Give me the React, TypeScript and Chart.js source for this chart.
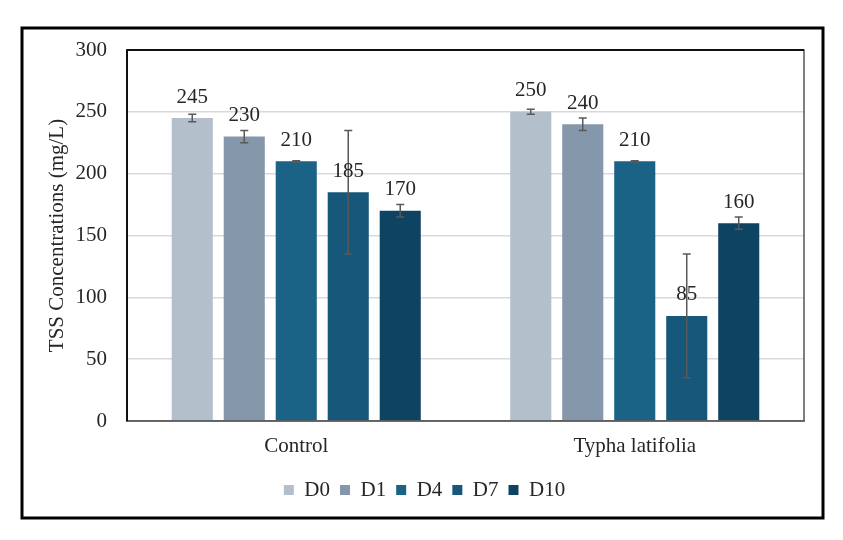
import React, { useEffect, useRef } from "react";
import { Chart, registerables } from "chart.js";

Chart.register(...registerables);

// ---- data ----
const categories = ["Control", "Typha latifolia"];
const seriesNames = ["D0", "D1", "D4", "D7", "D10"];
const valuesD0 = [245, 250];
const valuesD1 = [230, 240];
const valuesD4 = [210, 210];
const valuesD7 = [185, 85];
const valuesD10 = [170, 160];
const errorsD0 = [3, 2];
const errorsD1 = [5, 5];
const errorsD4 = [0.5, 0.5];
const errorsD7 = [50, 50];
const errorsD10 = [5, 5];
const yMin = 0;
const yMax = 300;
const yStep = 50;
const yTitle = "TSS Concentrations (mg/L)";

const seriesValues = [valuesD0, valuesD1, valuesD4, valuesD7, valuesD10];
const seriesErrors = [errorsD0, errorsD1, errorsD4, errorsD7, errorsD10];
const seriesColors = ["#b3bfca", "#8597aa", "#1b6287", "#175779", "#0f4362"];

const FONT = "'Liberation Serif', 'Times New Roman', serif";
const TEXT = "#262626";

const decorPlugin = {
  id: "decor",
  afterDatasetsDraw(chart: any) {
    const ctx = chart.ctx;
    const y = chart.scales.y;
    ctx.save();
    chart.data.datasets.forEach((ds: any, i: number) => {
      const meta = chart.getDatasetMeta(i);
      const errs = seriesErrors[i];
      meta.data.forEach((el: any, j: number) => {
        const v = ds.data[j];
        const e = errs[j];
        const x = el.x;
        const yt = y.getPixelForValue(v + e);
        const yb = y.getPixelForValue(v - e);
        ctx.strokeStyle = "#595959";
        ctx.lineWidth = 1.5;
        ctx.beginPath();
        ctx.moveTo(x, yt);
        ctx.lineTo(x, yb);
        ctx.moveTo(x - 4, yt);
        ctx.lineTo(x + 4, yt);
        ctx.moveTo(x - 4, yb);
        ctx.lineTo(x + 4, yb);
        ctx.stroke();
      });
    });
    ctx.fillStyle = TEXT;
    ctx.font = `21px ${FONT}`;
    ctx.textAlign = "center";
    ctx.textBaseline = "middle";
    chart.data.datasets.forEach((ds: any, i: number) => {
      const meta = chart.getDatasetMeta(i);
      meta.data.forEach((el: any, j: number) => {
        ctx.fillText(String(ds.data[j]), el.x, el.y - 21);
      });
    });
    ctx.restore();
  },
  afterDraw(chart: any) {
    const ctx = chart.ctx;
    const a = chart.chartArea;
    ctx.save();
    // chart area frame
    ctx.strokeStyle = "#555555";
    ctx.lineWidth = 1.5;
    ctx.strokeRect(a.left, a.top, a.right - a.left, a.bottom - a.top);
    ctx.strokeStyle = "#111111";
    ctx.lineWidth = 2;
    ctx.beginPath();
    ctx.moveTo(a.left, a.top);
    ctx.lineTo(a.right, a.top);
    ctx.moveTo(a.left, a.top);
    ctx.lineTo(a.left, a.bottom);
    ctx.stroke();
    // outer frame
    ctx.strokeStyle = "#000000";
    ctx.lineWidth = 3;
    ctx.strokeRect(22, 28, 801, 490);
    ctx.restore();
  },
};

export default function App() {
  const ref = useRef<HTMLCanvasElement | null>(null);
  useEffect(() => {
    document.body.style.margin = "0";
    const canvas = ref.current;
    if (!canvas) return;
    const chart = new Chart(canvas, {
      type: "bar",
      data: {
        labels: categories,
        datasets: seriesNames.map((name, i) => ({
          label: name,
          data: seriesValues[i],
          backgroundColor: seriesColors[i],
          borderWidth: 0,
          categoryPercentage: 0.768,
          barPercentage: 0.79,
        })),
      },
      options: {
        responsive: false,
        animation: false,
        devicePixelRatio: 1,
        layout: { padding: { left: 45, right: 39, top: 50, bottom: 29.5 } },
        plugins: {
          legend: {
            position: "bottom",
            labels: {
              boxWidth: 10,
              boxHeight: 10,
              padding: 10,
              color: TEXT,
              font: { family: FONT, size: 21 },
            },
          },
          tooltip: { enabled: false },
        },
        scales: {
          x: {
            grid: { display: false, drawTicks: false },
            border: { display: true, color: "#7f7f7f", width: 1.5 },
            ticks: { color: TEXT, font: { family: FONT, size: 21 }, padding: 13 },
            afterFit: (s: any) => {
              s.height = 48.5;
            },
          },
          y: {
            min: yMin,
            max: yMax,
            grid: { color: "#d9d9d9", lineWidth: 1.5, drawTicks: false },
            border: { display: true, color: "#111111", width: 2 },
            ticks: {
              stepSize: yStep,
              color: TEXT,
              font: { family: FONT, size: 21 },
              padding: 20,
            },
            title: {
              display: true,
              text: yTitle,
              color: TEXT,
              font: { family: FONT, size: 21 },
              padding: { top: 0, bottom: 0 },
            },
            afterFit: (s: any) => {
              s.width = 82;
            },
          },
        },
      },
      plugins: [decorPlugin],
    });
    return () => chart.destroy();
  }, []);
  return (
    <canvas
      ref={ref}
      width={843}
      height={540}
      style={{ display: "block", width: 843, height: 540 }}
    />
  );
}
